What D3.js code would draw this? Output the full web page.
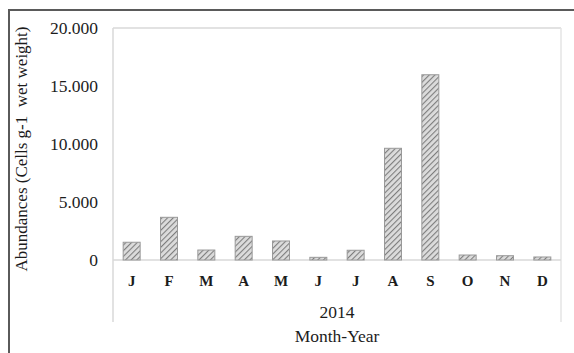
<!DOCTYPE html>
<html>
<head>
<meta charset="utf-8">
<script src="https://cdn.jsdelivr.net/npm/d3@7"></script>
<style>
  html, body { margin: 0; padding: 0; background: #fff; }
  svg { display: block; }
  svg text { font-family: "Liberation Serif", Tinos, "Times New Roman", Times, "DejaVu Serif", serif !important; fill: #1c1c1c; }
</style>
</head>
<body>
<div id="chart"></div>
<script>
// ---- data ----
const months = ["J", "F", "M", "A", "M", "J", "J", "A", "S", "O", "N", "D"];
const abundances = [1530, 3680, 860, 2040, 1640, 230, 840, 9630, 15970, 430, 370, 260];
const yTicks = [0, 5000, 10000, 15000, 20000];
const yearLabel = "2014";
const xTitle = "Month-Year";
const yTitle = "Abundances (Cells g-1  wet weight)";

// ---- layout ----
const W = 574, H = 353;
const plot = { left: 113, right: 561, top: 28, zero: 260, bottom: 322 };
const FONT = "'Liberation Serif', Tinos, 'Times New Roman', Times, 'DejaVu Serif', serif";

const svg = d3.select("#chart").append("svg")
  .attr("width", W).attr("height", H)
  .attr("font-family", FONT);

// hatch pattern
const defs = svg.append("defs");
const pat = defs.append("pattern")
  .attr("id", "hatch")
  .attr("patternUnits", "userSpaceOnUse")
  .attr("width", 4).attr("height", 4)
  .attr("patternTransform", "rotate(45)");
pat.append("rect").attr("width", 4).attr("height", 4).attr("fill", "#dcdcdc");
pat.append("line").attr("x1", 0).attr("y1", 0).attr("x2", 0).attr("y2", 4)
  .attr("stroke", "#7e7e7e").attr("stroke-width", 2.2);

// outer frame (extends past right/bottom edges)
svg.append("rect")
  .attr("x", 9).attr("y", 10)
  .attr("width", W + 20).attr("height", H + 20)
  .attr("fill", "none").attr("stroke", "#5a5a5a").attr("stroke-width", 2);

// scales
const idx = months.map((d, i) => i);
const x = d3.scaleBand().domain(idx).range([plot.left, plot.right])
  .paddingInner(0.545).paddingOuter(0.2725);
const y = d3.scaleLinear().domain([0, 20000]).range([plot.zero, plot.top]);

// plot area border lines
const g = svg.append("g");
g.append("line").attr("x1", plot.left).attr("x2", plot.right)
  .attr("y1", plot.top).attr("y2", plot.top)
  .attr("stroke", "#d9d9d9").attr("stroke-width", 1.5);
g.append("line").attr("x1", plot.left).attr("x2", plot.left)
  .attr("y1", plot.top).attr("y2", plot.bottom)
  .attr("stroke", "#d9d9d9").attr("stroke-width", 1.5);
g.append("line").attr("x1", plot.right).attr("x2", plot.right)
  .attr("y1", plot.top).attr("y2", plot.bottom)
  .attr("stroke", "#e4e4e4").attr("stroke-width", 1.5);
g.append("line").attr("x1", plot.left).attr("x2", plot.right)
  .attr("y1", y(0)).attr("y2", y(0))
  .attr("stroke", "#d9d9d9").attr("stroke-width", 1.5);

// bars
svg.append("g").selectAll("rect").data(abundances).join("rect")
  .attr("x", (d, i) => x(i))
  .attr("width", x.bandwidth())
  .attr("y", d => y(d))
  .attr("height", d => y(0) - y(d))
  .attr("fill", "url(#hatch)")
  .attr("stroke", "#999").attr("stroke-width", 1);

// y axis
const loc = d3.formatLocale({ thousands: ".", grouping: [3], decimal: ",", currency: ["", ""] });
const fmt = loc.format(",d");
const yAxis = svg.append("g")
  .attr("transform", `translate(${plot.left},0)`)
  .call(d3.axisLeft(y).tickValues(yTicks).tickFormat(fmt).tickSize(0).tickPadding(15));
yAxis.attr("font-family", FONT).attr("font-size", 17.5);
yAxis.select(".domain").remove();
yAxis.selectAll("text").attr("fill", "#1c1c1c").attr("dy", "0.32em");

// x axis
const xAxis = svg.append("g")
  .attr("transform", `translate(0,${plot.zero})`)
  .call(d3.axisBottom(x).tickFormat(i => months[i]).tickSize(0).tickPadding(0));
xAxis.attr("font-family", FONT).attr("font-size", 15).attr("font-weight", "bold");
xAxis.select(".domain").remove();
xAxis.selectAll("text").attr("fill", "#1c1c1c").attr("dy", null).attr("y", 25.5);

// x titles
const cx = (plot.left + plot.right) / 2;
svg.append("text").attr("x", cx).attr("y", 318)
  .attr("text-anchor", "middle").attr("font-size", 17.5).text(yearLabel);
svg.append("text").attr("x", cx).attr("y", 342)
  .attr("text-anchor", "middle").attr("font-size", 17.5).text(xTitle);

// y title
svg.append("text")
  .attr("transform", "translate(27,149) rotate(-90)")
  .attr("text-anchor", "middle")
  .attr("font-size", 17)
  .style("white-space", "pre")
  .text(yTitle);
</script>
</body>
</html>
